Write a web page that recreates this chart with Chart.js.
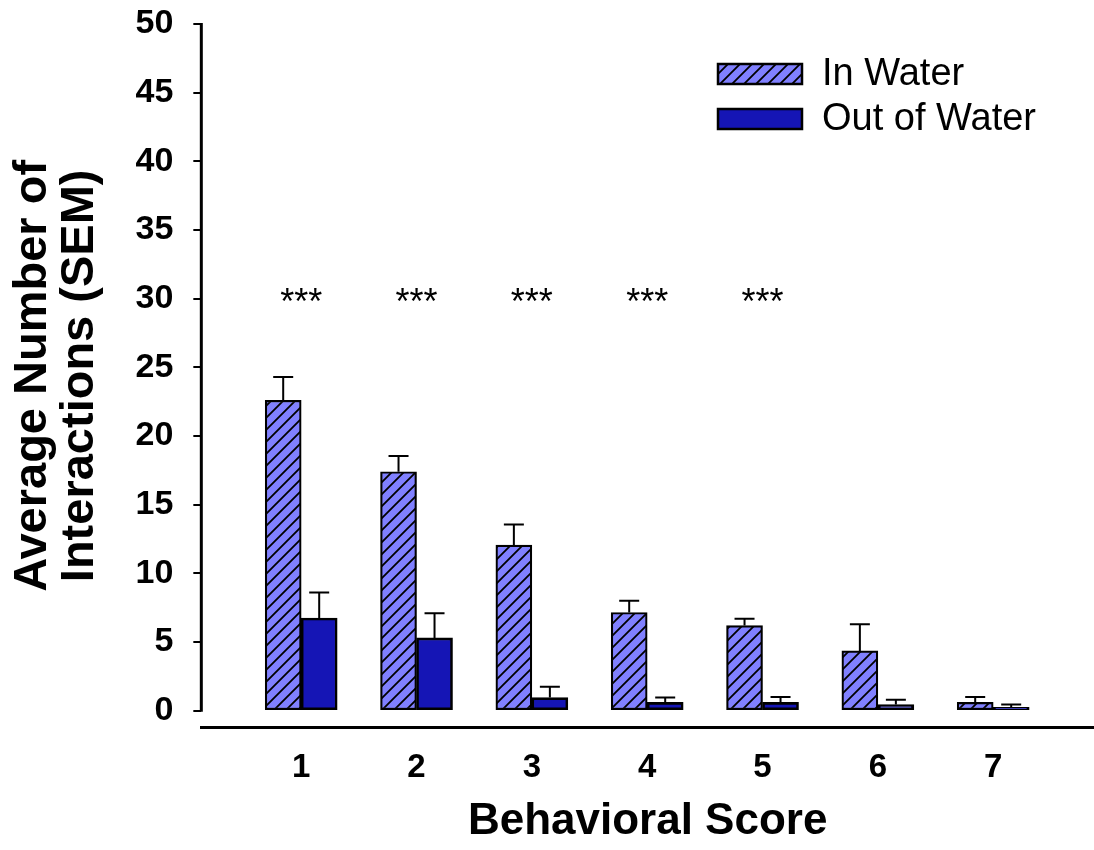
<!DOCTYPE html>
<html>
<head>
<meta charset="utf-8">
<script src="https://cdn.jsdelivr.net/npm/chart.js@4"></script>
<style>
  body { margin: 0; background: #fff; }
</style>
</head>
<body>
<canvas id="chart" width="1094" height="850"></canvas>
<script>
// values
const categories = [1, 2, 3, 4, 5, 6, 7];
const inWater = [22.6, 17.4, 12.05, 7.15, 6.2, 4.35, 0.6];
const inWaterSem = [1.7, 1.15, 1.5, 0.85, 0.5, 1.95, 0.4];
const outWater = [6.75, 5.3, 0.95, 0.6, 0.6, 0.45, 0.25];
const outWaterSem = [1.85, 1.8, 0.8, 0.35, 0.4, 0.35, 0.2];
const significance = ['***', '***', '***', '***', '***', '', ''];
const yTicks = [0, 5, 10, 15, 20, 25, 30, 35, 40, 45, 50];
const starLevel = 30;

const FONT = "'Liberation Sans', Arial, sans-serif";

// diagonal hatch for the "In Water" bars
function hatch() {
  const c = document.createElement('canvas');
  c.width = 12; c.height = 12;
  const g = c.getContext('2d');
  g.fillStyle = '#8080ff';
  g.fillRect(0, 0, 12, 12);
  g.strokeStyle = '#000';
  g.lineWidth = 1.8;
  g.beginPath();
  g.moveTo(-3, 15); g.lineTo(15, -3);
  g.moveTo(-3, 3); g.lineTo(3, -3);
  g.moveTo(9, 15); g.lineTo(15, 9);
  g.stroke();
  return g.createPattern(c, 'repeat');
}

const sems = [inWaterSem, outWaterSem];

const extras = {
  id: 'extras',
  afterDatasetsDraw(chart) {
    const ctx = chart.ctx;
    const y = chart.scales.y, x = chart.scales.x;
    ctx.save();
    // error bars (upper half only)
    ctx.strokeStyle = '#000';
    ctx.lineWidth = 2;
    chart.data.datasets.forEach((ds, di) => {
      chart.getDatasetMeta(di).data.forEach((bar, i) => {
        const top = y.getPixelForValue(ds.data[i].y + sems[di][i]);
        ctx.beginPath();
        ctx.moveTo(bar.x, bar.y);
        ctx.lineTo(bar.x, top);
        ctx.moveTo(bar.x - 10, top);
        ctx.lineTo(bar.x + 10, top);
        ctx.stroke();
      });
    });
    // y axis line from 0 to 50 only
    ctx.lineWidth = 3;
    ctx.beginPath();
    ctx.moveTo(chart.chartArea.left, y.getPixelForValue(yTicks[0]) + 1);
    ctx.lineTo(chart.chartArea.left, y.getPixelForValue(yTicks[yTicks.length - 1]) - 1);
    ctx.stroke();
    // significance stars
    ctx.fillStyle = '#000';
    ctx.font = '36px ' + FONT;
    ctx.textAlign = 'center';
    ctx.textBaseline = 'middle';
    significance.forEach((s, i) => {
      if (s) ctx.fillText(s, x.getPixelForValue(categories[i]), y.getPixelForValue(starLevel) + 5);
    });
    // legend
    ctx.font = '38px ' + FONT;
    ctx.textAlign = 'left';
    chart.data.datasets.forEach((ds, di) => {
      const ty = 74 + di * 45;
      ctx.fillStyle = ds.backgroundColor;
      ctx.fillRect(718, ty - 10, 84, 20);
      ctx.lineWidth = 2.5;
      ctx.strokeRect(718, ty - 10, 84, 20);
      ctx.fillStyle = '#000';
      ctx.fillText(ds.label, 822, ty + 1);
    });
    ctx.restore();
  }
};

new Chart(document.getElementById('chart'), {
  type: 'bar',
  data: {
    datasets: [
      {
        label: 'In Water',
        data: categories.map((c, i) => ({ x: c, y: inWater[i] })),
        backgroundColor: hatch(),
        borderColor: '#000',
        borderWidth: 2.2,
        borderSkipped: false,
        barThickness: 36
      },
      {
        label: 'Out of Water',
        data: categories.map((c, i) => ({ x: c, y: outWater[i] })),
        backgroundColor: '#1515b5',
        borderColor: '#000',
        borderWidth: 2.6,
        borderSkipped: false,
        barThickness: 36
      }
    ]
  },
  options: {
    responsive: false,
    animation: false,
    layout: { padding: { top: 24, right: 0, bottom: 0, left: 0 } },
    plugins: {
      legend: { display: false },
      tooltip: { enabled: false }
    },
    scales: {
      x: {
        type: 'linear',
        offset: false,
        min: 0.134,
        max: 7.874,
        afterBuildTicks(scale) {
          scale.ticks = categories.map(v => ({ value: v }));
        },
        grid: { display: false },
        border: { display: true, color: '#000', width: 3 },
        ticks: {
          color: '#000',
          padding: 14,
          font: { family: FONT, size: 33, weight: 'bold', lineHeight: 1.1 }
        },
        title: {
          display: true,
          text: 'Behavioral Score',
          color: '#000',
          font: { family: FONT, size: 44, weight: 'bold', lineHeight: 1.0 },
          padding: { top: 0, bottom: 6 }
        }
      },
      y: {
        min: -1.24,
        max: 50,
        afterBuildTicks(scale) {
          scale.ticks = yTicks.map(v => ({ value: v }));
        },
        afterFit(scale) {
          scale.paddingTop = 0;
          scale.paddingBottom = 0;
        },
        grid: {
          drawOnChartArea: false,
          color: '#000',
          lineWidth: 2,
          tickLength: 8
        },
        border: { display: false },
        ticks: {
          color: '#000',
          padding: 20,
          font: { family: FONT, size: 34, weight: 'bold' }
        },
        title: {
          display: true,
          text: ['Average Number of', 'Interactions (SEM)'],
          color: '#000',
          font: { family: FONT, size: 47, weight: 'bold', lineHeight: 1.0 },
          padding: { top: 9.5, bottom: 12 }
        }
      }
    }
  },
  plugins: [extras]
});
</script>
</body>
</html>
